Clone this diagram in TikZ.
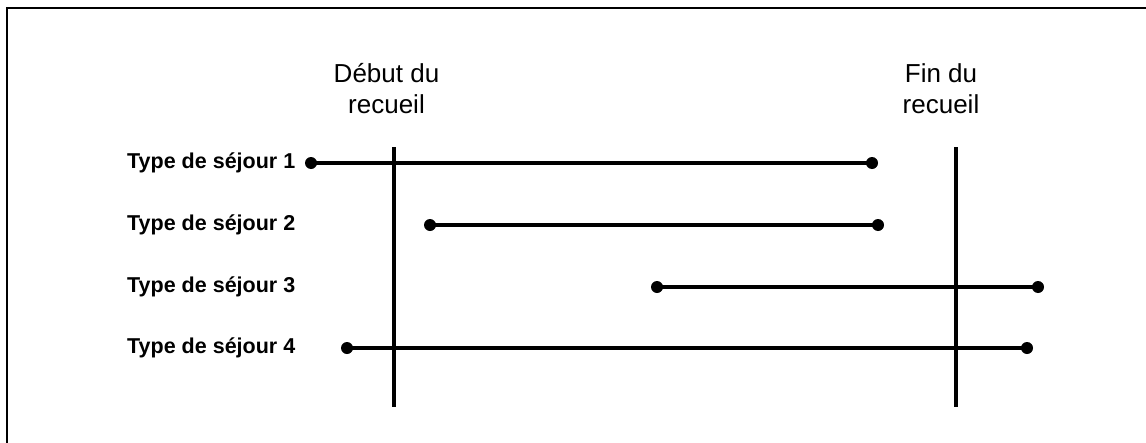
\documentclass[tikz,border=0pt]{standalone}
\usepackage{fontspec}
\setmainfont{Liberation Sans}
\begin{document}
\begin{tikzpicture}[x=1pt,y=-1pt,
  frameline/.style={line width=1.5pt,black},
  limitline/.style={line width=3.5pt,black},
  spanline/.style={line width=4pt,black},
  dotnode/.style={circle,fill=black,inner sep=0pt,minimum size=12pt},
  rowlabel/.style={anchor=west,inner sep=0pt,font=\fontsize{21.5}{26}\selectfont\bfseries},
  headlabel/.style={align=center,inner sep=0pt,font=\fontsize{26}{31}\selectfont}]
\useasboundingbox (0,0) rectangle (1146,442);
% frame
\coordinate (fbl) at (7,450);
\coordinate (ftl) at (7,8);
\coordinate (ftr) at (1160,8);
\draw[frameline] (fbl) -- (ftl) -- (ftr);
% headers
\node[headlabel] (hdeb) at (386.5,88.5) {Début du\\recueil};
\node[headlabel] (hfin) at (941,88.5) {Fin du\\recueil};
% limit lines
\coordinate (v1t) at (394,147);
\coordinate (v1b) at (394,407);
\coordinate (v2t) at (956,147);
\coordinate (v2b) at (956,407);
\draw[limitline] (v1t) -- (v1b);
\draw[limitline] (v2t) -- (v2b);
% row labels
\node[rowlabel] (l1) at (127,163) {Type de séjour 1};
\node[rowlabel] (l2) at (127,225) {Type de séjour 2};
\node[rowlabel] (l3) at (127,287) {Type de séjour 3};
\node[rowlabel] (l4) at (127,348) {Type de séjour 4};
% spans
\node[dotnode] (s1) at (311,163) {};
\node[dotnode] (e1) at (872,163) {};
\node[dotnode] (s2) at (430,225) {};
\node[dotnode] (e2) at (878,225) {};
\node[dotnode] (s3) at (657,287) {};
\node[dotnode] (e3) at (1038,287) {};
\node[dotnode] (s4) at (347,348) {};
\node[dotnode] (e4) at (1027,348) {};
\draw[spanline] (s1.center) -- (e1.center);
\draw[spanline] (s2.center) -- (e2.center);
\draw[spanline] (s3.center) -- (e3.center);
\draw[spanline] (s4.center) -- (e4.center);
\end{tikzpicture}
\end{document}
